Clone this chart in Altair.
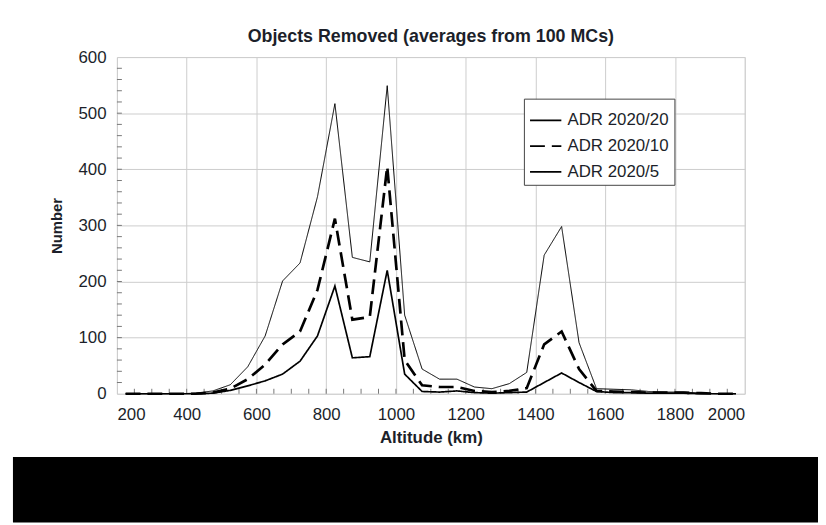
import altair as alt
import pandas as pd

# ---- data ----
altitude = [225, 275, 325, 375, 425, 475, 525, 575, 625, 675, 725, 775, 825, 875,
            925, 975, 1025, 1075, 1125, 1175, 1225, 1275, 1325, 1375, 1425, 1475,
            1525, 1575, 1625, 1675, 1725, 1775, 1825, 1875, 1925, 1975]
adr20 = [0, 0, 0, 0, 1, 5, 16, 48, 103, 201, 233, 351, 517, 243, 235, 549, 140, 44,
         26, 26, 12, 9, 18, 38, 247, 298, 91, 9, 8, 7, 4, 3, 3, 1, 0, 0]
adr10 = [0, 0, 0, 0, 0, 2, 9, 26, 52, 88, 111, 185, 312, 132, 137, 405, 60, 15,
         12, 12, 5, 3, 5, 10, 88, 111, 44, 5, 4, 3, 2, 2, 2, 1, 0, 0]
adr5 = [0, 0, 0, 0, 0, 1, 6, 14, 23, 35, 58, 103, 192, 64, 66, 220, 35, 4,
        3, 5, 2, 1, 2, 3, 20, 37, 20, 4, 2, 2, 1, 1, 1, 0, 0, 0]
series = ["ADR 2020/20", "ADR 2020/10", "ADR 2020/5"]
line_widths = [1.0, 2.7, 1.7]
x_ticks = [200, 400, 600, 800, 1000, 1200, 1400, 1600, 1800, 2000]
y_ticks = [0, 100, 200, 300, 400, 500, 600]
x_minor = [v for v in range(250, 2000, 50)]
y_minor = [v for v in range(20, 600, 20)]

rows = []
for name, vals, w in zip(series, [adr20, adr10, adr5], line_widths):
    for a, v in zip(altitude, vals):
        rows.append({"Altitude": a, "Number": v, "Series": name, "sw": w})
df = pd.DataFrame(rows)

FONT = "Liberation Sans"
TXT = "#1c1f2a"

x_scale = alt.Scale(domain=[200, 2000], nice=False, zero=False)
y_scale = alt.Scale(domain=[0, 600], nice=False)

x_axis = alt.Axis(values=x_ticks, format="d", title="Altitude (km)", grid=True, gridColor="#cccccc",
                  domain=False, ticks=False, tickSize=0, labelFontSize=17, labelFont=FONT,
                  labelColor=TXT, labelPadding=13, titleFont=FONT, titleFontSize=17,
                  titleFontWeight="bold", titleColor=TXT, titlePadding=7)
y_axis = alt.Axis(values=y_ticks, format="d", title="Number", grid=True, gridColor="#cccccc",
                  domain=False, ticks=False, tickSize=0, labelFontSize=17, labelFont=FONT,
                  labelColor=TXT, labelPadding=11, titleFont=FONT, titleFontSize=15,
                  titleFontWeight="bold", titleColor=TXT, titlePadding=14)

NBSP = "\u00a0"
legend = alt.Legend(title=None, orient="none", legendX=411, legendY=42,
                    fillColor="white", strokeColor="#444444", padding=5,
                    symbolType="stroke", symbolSize=1000, symbolStrokeWidth=1.8,
                    labelFontSize=17, labelFont=FONT, labelColor=TXT, rowPadding=1,
                    labelOffset=5, labelExpr="datum.label + '" + NBSP * 2 + "'")

lines = alt.Chart(df).mark_line(strokeCap="butt").encode(
    x=alt.X("Altitude:Q", scale=x_scale, axis=x_axis),
    y=alt.Y("Number:Q", scale=y_scale, axis=y_axis),
    color=alt.Color("Series:N", scale=alt.Scale(domain=series, range=["#000000", "#000000", "#000000"]),
                    legend=legend),
    strokeDash=alt.StrokeDash("Series:N", scale=alt.Scale(domain=series, range=[[1, 0], [15, 7], [1, 0]]),
                              legend=legend),
    strokeWidth=alt.StrokeWidth("sw:Q", scale=None),
)

ymin = alt.Chart(pd.DataFrame({"Number": y_minor})).mark_rule(color="#777777", strokeWidth=1).encode(
    y=alt.Y("Number:Q", scale=y_scale, axis=y_axis),
    x=alt.value(0), x2=alt.value(5),
)
xmin = alt.Chart(pd.DataFrame({"Altitude": x_minor})).mark_rule(color="#777777", strokeWidth=1).encode(
    x=alt.X("Altitude:Q", scale=x_scale, axis=x_axis),
    y=alt.value(340), y2=alt.value(335),
)

one = pd.DataFrame({"k": [0]})
bottom_bar = alt.Chart(one).mark_rect(color="black").encode(
    x=alt.value(-105), x2=alt.value(708), y=alt.value(404), y2=alt.value(470)
)

chart = alt.layer(ymin, xmin, lines, bottom_bar).properties(
    width=634, height=340,
    title=alt.TitleParams("Objects Removed (averages from 100 MCs)", font=FONT, fontSize=18,
                          fontWeight="bold", color=TXT, anchor="middle", offset=2, frame="group"),
    autosize=alt.AutoSizeParams(type="none"),
    padding={"left": 110, "top": 47, "right": 74, "bottom": 130},
).configure_view(stroke="#808080", strokeWidth=1.5).configure(background="white")

chart.save("out.html", embed_options={"renderer": "svg", "actions": False})
